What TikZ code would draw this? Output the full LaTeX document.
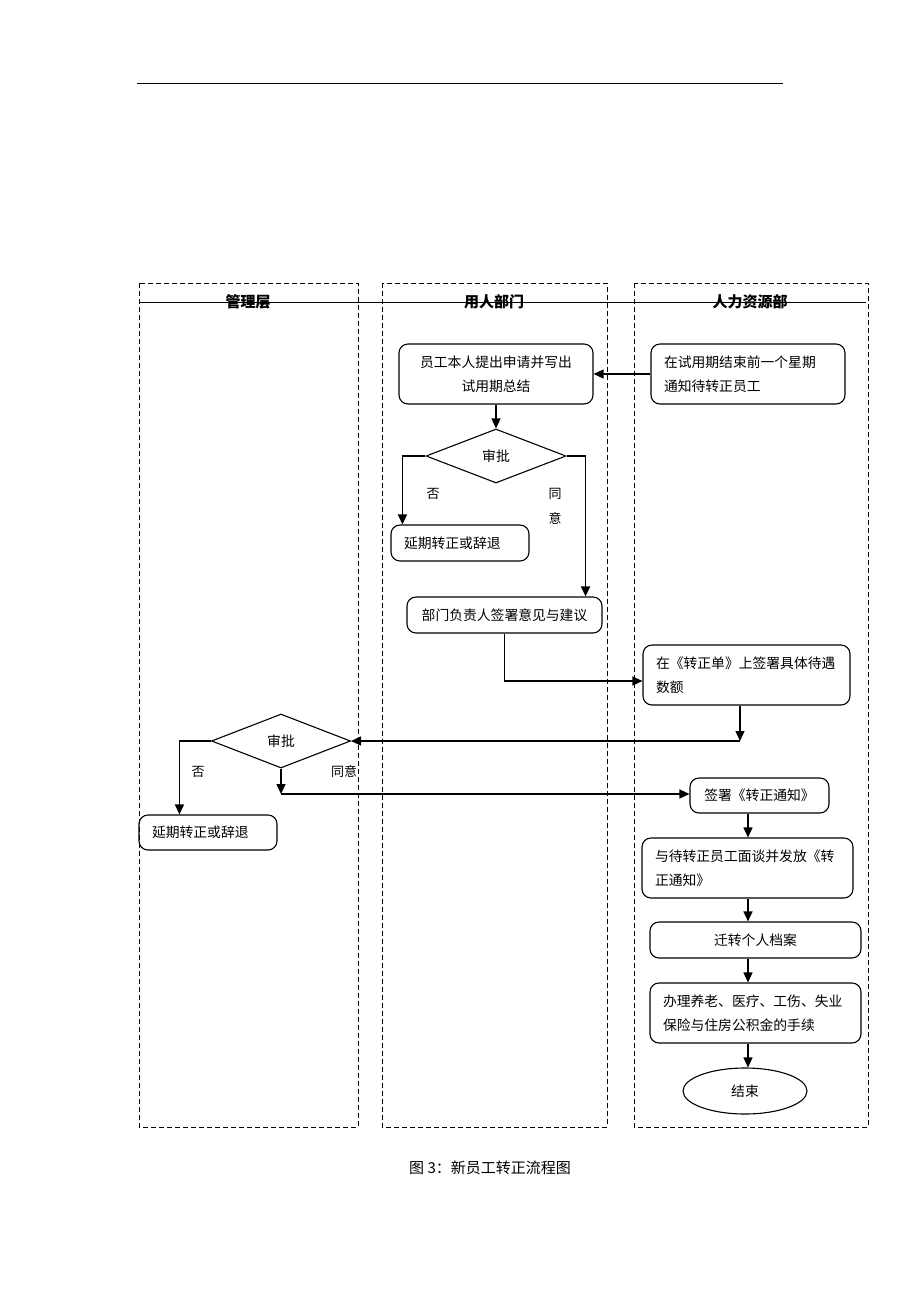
\documentclass[tikz,border=0pt]{standalone}
\usepackage{fontspec}
\setmainfont{Noto Sans CJK SC}
\usetikzlibrary{arrows.meta,shapes.geometric}
\begin{document}
\begin{tikzpicture}[x=1pt,y=-1pt,
  lane/.style={draw,dash pattern=on 5pt off 3pt,line width=1pt},
  box/.style={draw,rounded corners=9pt,line width=1.1pt,inner xsep=13pt,inner ysep=0pt,
    font=\fontsize{13.8}{24}\selectfont},
  lbox/.style={box,align=left},
  cbox/.style={box,align=center},
  dec/.style={draw,diamond,line width=1.1pt,inner sep=0pt,shape aspect=2.6,
    font=\fontsize{13.8}{16}\selectfont},
  endnode/.style={draw,ellipse,line width=1.1pt,inner sep=0pt,font=\fontsize{13.8}{16}\selectfont},
  head/.style={font=\fontsize{15}{18}\selectfont\bfseries},
  lab/.style={font=\fontsize{13}{16}\selectfont},
  arr/.style={line width=1.4pt,-{Triangle[length=10pt,width=9pt]}},
  ln/.style={line width=1.4pt}]
\useasboundingbox (0,0) rectangle (920,1302);
\fill[white] (0,0) rectangle (920,1302);

% top rule
\coordinate (t1) at (137,83);
\coordinate (t2) at (783,83);
\draw[line width=1pt] (t1) -- (t2);

% lanes
\draw[lane] (139,283) rectangle (358,1127);
\draw[lane] (382,283) rectangle (607,1127);
\draw[lane] (634,283) rectangle (868,1127);
\coordinate (h1) at (140,302);
\coordinate (h2) at (866,302);
\draw[line width=1pt] (h1) -- (h2);
\node[head] (H1) at (248,302) {管理层};
\node[head] (H2) at (494,302) {用人部门};
\node[head] (H3) at (750,302) {人力资源部};

% nodes
\node[cbox,minimum width=194pt,minimum height=60pt] (A) at (496,374) {员工本人提出申请并写出\\试用期总结};
\node[lbox,text width=168pt,minimum height=60pt] (B) at (748,374) {在试用期结束前一个星期\\通知待转正员工};
\node[dec,minimum width=140pt,minimum height=54pt] (D1) at (496,456) {审批};
\node[lbox,text width=112pt,minimum height=36pt] (C) at (460,543) {延期转正或辞退};
\node[cbox,minimum width=195pt,minimum height=36pt] (Dd) at (504.5,615) {部门负责人签署意见与建议};
\node[lbox,text width=181pt,minimum height=60pt] (E) at (746.5,675) {在《转正单》上签署具体待遇\\数额};
\node[dec,minimum width=139pt,minimum height=54pt] (D2) at (281,741) {审批};
\node[lbox,text width=112pt,minimum height=35pt] (F) at (208,832.5) {延期转正或辞退};
\node[cbox,minimum width=139pt,minimum height=35pt] (G) at (759.5,795.5) {签署《转正通知》};
\node[lbox,text width=185pt,minimum height=60pt] (Hn) at (747.5,868) {与待转正员工面谈并发放《转\\正通知》};
\node[cbox,minimum width=211pt,minimum height=36pt] (I) at (755.5,940) {迁转个人档案};
\node[lbox,text width=185pt,minimum height=60pt] (J) at (755.5,1013) {办理养老、医疗、工伤、失业\\保险与住房公积金的手续};
\node[endnode,minimum width=124pt,minimum height=46pt] (K) at (745,1091) {结束};

% labels
\node[lab] (l1) at (433,494) {否};
\node[lab] (l2) at (555,494) {同};
\node[lab] (l3) at (555,518) {意};
\node[lab] (l4) at (198,772) {否};
\node[lab] (l5) at (344,772) {同意};

% connectors
\draw[arr] (B.west) -- (A.east);
\draw[arr] (A.south) -- (D1.north);
\draw[arr] (D1.west) -| ([xshift=12pt]C.north west);
\draw[arr] (D1.east) -| ([xshift=-17pt]Dd.north east);
\draw[arr] (Dd.south) |- ([yshift=-6pt]E.west);
\coordinate (c1) at (740,741);
\draw[arr] (E.south -| c1) -- (c1);
\draw[arr] (c1) -- (D2.east);
\draw[arr] (D2.west) -| ([xshift=41pt]F.north west);
\coordinate (c2) at (281,794);
\draw[arr] (D2.south) -- (c2);
\draw[arr] (c2) -- (G.west |- c2);
\coordinate (x0) at (748,0);
\draw[arr] (G.south -| x0) -- (Hn.north -| x0);
\draw[arr] (Hn.south -| x0) -- (I.north -| x0);
\draw[arr] (I.south -| x0) -- (J.north -| x0);
\draw[arr] (J.south -| x0) -- (K.north -| x0);

% caption
\node[font=\fontsize{15}{18}\selectfont] (cap) at (490,1168) {图 3：新员工转正流程图};
\end{tikzpicture}
\end{document}
